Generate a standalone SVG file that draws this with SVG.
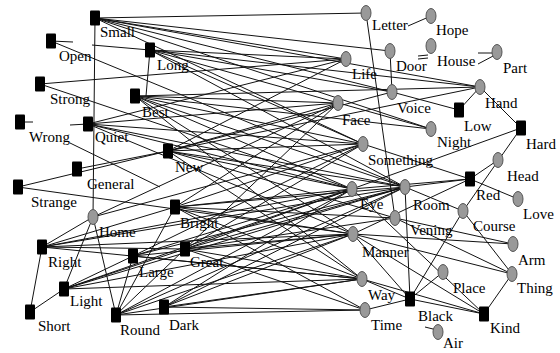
<svg xmlns="http://www.w3.org/2000/svg" width="560" height="353" viewBox="0 0 560 353">
<style>
.e line{stroke:#111;stroke-width:1}
.sq{fill:#000}
.ci{fill:#999;stroke:#555;stroke-width:1}
text{font-family:"Liberation Serif","Times New Roman",serif;font-size:15px;fill:#000}
</style>
<defs>
<rect id="s" x="-5" y="-7.5" width="10" height="15" rx="1"/>
<ellipse id="c" rx="5" ry="7.5"/>
</defs>
<rect width="560" height="353" fill="#fff"/>
<g id="connectors" class="e">
<line x1="95" y1="18" x2="366" y2="13"/>
<line x1="95" y1="18" x2="390" y2="51"/>
<line x1="95" y1="18" x2="346" y2="59"/>
<line x1="95" y1="18" x2="480" y2="87"/>
<line x1="95" y1="18" x2="392" y2="92"/>
<line x1="95" y1="18" x2="431" y2="129"/>
<line x1="95" y1="18" x2="363" y2="144"/>
<line x1="95" y1="18" x2="93" y2="217"/>
<line x1="51" y1="41" x2="73" y2="42"/>
<line x1="92" y1="45" x2="150" y2="50"/>
<line x1="51" y1="41" x2="405" y2="187"/>
<line x1="150" y1="50" x2="346" y2="59"/>
<line x1="150" y1="50" x2="480" y2="87"/>
<line x1="150" y1="50" x2="392" y2="92"/>
<line x1="150" y1="50" x2="431" y2="129"/>
<line x1="150" y1="50" x2="363" y2="144"/>
<line x1="150" y1="50" x2="405" y2="187"/>
<line x1="150" y1="50" x2="146" y2="96"/>
<line x1="40" y1="84" x2="346" y2="59"/>
<line x1="40" y1="84" x2="352" y2="189"/>
<line x1="135" y1="96" x2="338" y2="103"/>
<line x1="135" y1="96" x2="363" y2="144"/>
<line x1="135" y1="96" x2="431" y2="129"/>
<line x1="135" y1="96" x2="405" y2="187"/>
<line x1="135" y1="96" x2="352" y2="189"/>
<line x1="135" y1="96" x2="480" y2="87"/>
<line x1="135" y1="96" x2="362" y2="279"/>
<line x1="135" y1="96" x2="353" y2="234"/>
<line x1="20" y1="122" x2="33" y2="122"/>
<line x1="70" y1="125" x2="88" y2="124"/>
<line x1="88" y1="124" x2="338" y2="103"/>
<line x1="88" y1="124" x2="346" y2="59"/>
<line x1="88" y1="124" x2="363" y2="144"/>
<line x1="88" y1="124" x2="405" y2="187"/>
<line x1="88" y1="124" x2="352" y2="189"/>
<line x1="88" y1="124" x2="353" y2="234"/>
<line x1="168" y1="151" x2="77" y2="169"/>
<line x1="168" y1="151" x2="18" y2="187"/>
<line x1="168" y1="151" x2="338" y2="103"/>
<line x1="168" y1="151" x2="480" y2="87"/>
<line x1="168" y1="151" x2="392" y2="92"/>
<line x1="168" y1="151" x2="363" y2="144"/>
<line x1="168" y1="151" x2="405" y2="187"/>
<line x1="168" y1="151" x2="352" y2="189"/>
<line x1="168" y1="151" x2="395" y2="218"/>
<line x1="168" y1="151" x2="362" y2="279"/>
<line x1="168" y1="151" x2="346" y2="59"/>
<line x1="70" y1="143" x2="160" y2="187"/>
<line x1="18" y1="187" x2="353" y2="234"/>
<line x1="175" y1="207" x2="405" y2="187"/>
<line x1="175" y1="207" x2="352" y2="189"/>
<line x1="175" y1="207" x2="363" y2="144"/>
<line x1="175" y1="207" x2="353" y2="234"/>
<line x1="175" y1="207" x2="362" y2="279"/>
<line x1="175" y1="207" x2="395" y2="218"/>
<line x1="175" y1="207" x2="365" y2="310"/>
<line x1="175" y1="207" x2="338" y2="103"/>
<line x1="93" y1="217" x2="42" y2="247"/>
<line x1="93" y1="217" x2="64" y2="289"/>
<line x1="93" y1="217" x2="338" y2="103"/>
<line x1="93" y1="217" x2="363" y2="144"/>
<line x1="42" y1="247" x2="185" y2="249"/>
<line x1="42" y1="247" x2="30" y2="312"/>
<line x1="42" y1="247" x2="352" y2="189"/>
<line x1="42" y1="247" x2="405" y2="187"/>
<line x1="42" y1="247" x2="353" y2="234"/>
<line x1="42" y1="247" x2="362" y2="279"/>
<line x1="42" y1="247" x2="175" y2="207"/>
<line x1="133" y1="256" x2="116" y2="315"/>
<line x1="133" y1="256" x2="352" y2="189"/>
<line x1="133" y1="256" x2="405" y2="187"/>
<line x1="133" y1="256" x2="353" y2="234"/>
<line x1="133" y1="256" x2="362" y2="279"/>
<line x1="133" y1="256" x2="64" y2="289"/>
<line x1="133" y1="256" x2="363" y2="144"/>
<line x1="185" y1="249" x2="352" y2="189"/>
<line x1="185" y1="249" x2="405" y2="187"/>
<line x1="185" y1="249" x2="363" y2="144"/>
<line x1="185" y1="249" x2="353" y2="234"/>
<line x1="185" y1="249" x2="362" y2="279"/>
<line x1="185" y1="249" x2="395" y2="218"/>
<line x1="185" y1="249" x2="365" y2="310"/>
<line x1="185" y1="249" x2="338" y2="103"/>
<line x1="64" y1="289" x2="30" y2="312"/>
<line x1="64" y1="289" x2="185" y2="249"/>
<line x1="64" y1="289" x2="405" y2="187"/>
<line x1="64" y1="289" x2="362" y2="279"/>
<line x1="64" y1="289" x2="353" y2="234"/>
<line x1="64" y1="289" x2="352" y2="189"/>
<line x1="116" y1="315" x2="362" y2="279"/>
<line x1="116" y1="315" x2="365" y2="310"/>
<line x1="116" y1="315" x2="353" y2="234"/>
<line x1="116" y1="315" x2="352" y2="189"/>
<line x1="116" y1="315" x2="405" y2="187"/>
<line x1="116" y1="315" x2="175" y2="207"/>
<line x1="116" y1="315" x2="93" y2="217"/>
<line x1="116" y1="315" x2="185" y2="249"/>
<line x1="164" y1="307" x2="365" y2="310"/>
<line x1="164" y1="307" x2="362" y2="279"/>
<line x1="164" y1="307" x2="353" y2="234"/>
<line x1="164" y1="307" x2="405" y2="187"/>
<line x1="164" y1="307" x2="352" y2="189"/>
<line x1="459" y1="110" x2="480" y2="87"/>
<line x1="459" y1="110" x2="392" y2="92"/>
<line x1="521" y1="128" x2="480" y2="87"/>
<line x1="521" y1="128" x2="352" y2="189"/>
<line x1="521" y1="128" x2="463" y2="211"/>
<line x1="470" y1="179" x2="498" y2="160"/>
<line x1="470" y1="179" x2="518" y2="199"/>
<line x1="470" y1="179" x2="405" y2="187"/>
<line x1="470" y1="179" x2="363" y2="144"/>
<line x1="470" y1="179" x2="352" y2="189"/>
<line x1="470" y1="179" x2="353" y2="234"/>
<line x1="410" y1="299" x2="362" y2="279"/>
<line x1="410" y1="299" x2="353" y2="234"/>
<line x1="410" y1="299" x2="463" y2="211"/>
<line x1="410" y1="299" x2="443" y2="272"/>
<line x1="410" y1="299" x2="365" y2="310"/>
<line x1="410" y1="299" x2="405" y2="187"/>
<line x1="425" y1="327" x2="437" y2="330"/>
<line x1="484" y1="314" x2="512" y2="274"/>
<line x1="484" y1="314" x2="410" y2="299"/>
<line x1="484" y1="314" x2="362" y2="279"/>
<line x1="484" y1="314" x2="353" y2="234"/>
<line x1="484" y1="314" x2="352" y2="189"/>
<line x1="512" y1="274" x2="353" y2="234"/>
<line x1="512" y1="274" x2="395" y2="218"/>
<line x1="512" y1="274" x2="463" y2="211"/>
<line x1="513" y1="244" x2="395" y2="218"/>
<line x1="513" y1="244" x2="353" y2="234"/>
<line x1="463" y1="211" x2="405" y2="187"/>
<line x1="366" y1="13" x2="395" y2="218"/>
<line x1="408" y1="26" x2="431" y2="16"/>
<line x1="418" y1="56" x2="428" y2="55"/>
<line x1="418" y1="59" x2="428" y2="58"/>
<line x1="478" y1="53" x2="495" y2="53"/>
<line x1="478" y1="64" x2="495" y2="55"/>
<line x1="390" y1="51" x2="392" y2="92"/>
</g>
<g id="n-small"><use href="#s" x="95" y="18" class="sq"/><text x="100" y="37">Small</text></g>
<g id="n-open"><use href="#s" x="51" y="41" class="sq"/><text x="59" y="61">Open</text></g>
<g id="n-long"><use href="#s" x="150" y="50" class="sq"/><text x="157" y="70">Long</text></g>
<g id="n-strong"><use href="#s" x="40" y="84" class="sq"/><text x="50" y="104">Strong</text></g>
<g id="n-best"><use href="#s" x="135" y="96" class="sq"/><text x="142" y="117">Best</text></g>
<g id="n-wrong"><use href="#s" x="20" y="122" class="sq"/><text x="29" y="142">Wrong</text></g>
<g id="n-quiet"><use href="#s" x="88" y="124" class="sq"/><text x="95" y="142">Quiet</text></g>
<g id="n-new"><use href="#s" x="168" y="151" class="sq"/><text x="175" y="172">New</text></g>
<g id="n-general"><use href="#s" x="77" y="169" class="sq"/><text x="87" y="189">General</text></g>
<g id="n-strange"><use href="#s" x="18" y="187" class="sq"/><text x="31" y="207">Strange</text></g>
<g id="n-bright"><use href="#s" x="175" y="207" class="sq"/><text x="180" y="228">Bright</text></g>
<g id="n-right"><use href="#s" x="42" y="247" class="sq"/><text x="48" y="267">Right</text></g>
<g id="n-large"><use href="#s" x="133" y="256" class="sq"/><text x="139" y="277">Large</text></g>
<g id="n-great"><use href="#s" x="185" y="249" class="sq"/><text x="190" y="267">Great</text></g>
<g id="n-light"><use href="#s" x="64" y="289" class="sq"/><text x="70" y="306">Light</text></g>
<g id="n-short"><use href="#s" x="30" y="312" class="sq"/><text x="38" y="331">Short</text></g>
<g id="n-round"><use href="#s" x="116" y="315" class="sq"/><text x="120" y="335">Round</text></g>
<g id="n-dark"><use href="#s" x="164" y="307" class="sq"/><text x="169" y="330">Dark</text></g>
<g id="n-low"><use href="#s" x="459" y="110" class="sq"/><text x="464" y="131">Low</text></g>
<g id="n-hard"><use href="#s" x="521" y="128" class="sq"/><text x="526" y="149">Hard</text></g>
<g id="n-red"><use href="#s" x="470" y="179" class="sq"/><text x="476" y="200">Red</text></g>
<g id="n-black"><use href="#s" x="410" y="299" class="sq"/><text x="418" y="321">Black</text></g>
<g id="n-kind"><use href="#s" x="484" y="314" class="sq"/><text x="490" y="333">Kind</text></g>
<g id="n-letter"><use href="#c" x="366" y="13" class="ci"/><text x="372" y="30">Letter</text></g>
<g id="n-hope"><use href="#c" x="431" y="16" class="ci"/><text x="436" y="35">Hope</text></g>
<g id="n-door"><use href="#c" x="390" y="51" class="ci"/><text x="396" y="71">Door</text></g>
<g id="n-house"><use href="#c" x="431" y="46" class="ci"/><text x="437" y="66">House</text></g>
<g id="n-part"><use href="#c" x="497" y="52" class="ci"/><text x="503" y="73">Part</text></g>
<g id="n-life"><use href="#c" x="346" y="59" class="ci"/><text x="352" y="79">Life</text></g>
<g id="n-hand"><use href="#c" x="480" y="87" class="ci"/><text x="485" y="108">Hand</text></g>
<g id="n-voice"><use href="#c" x="392" y="92" class="ci"/><text x="397" y="113">Voice</text></g>
<g id="n-face"><use href="#c" x="338" y="103" class="ci"/><text x="342" y="125">Face</text></g>
<g id="n-night"><use href="#c" x="431" y="129" class="ci"/><text x="437" y="147">Night</text></g>
<g id="n-something"><use href="#c" x="363" y="144" class="ci"/><text x="368" y="165">Something</text></g>
<g id="n-head"><use href="#c" x="498" y="160" class="ci"/><text x="507" y="181">Head</text></g>
<g id="n-room"><use href="#c" x="405" y="187" class="ci"/><text x="413" y="210">Room</text></g>
<g id="n-eye"><use href="#c" x="352" y="189" class="ci"/><text x="360" y="209">Eye</text></g>
<g id="n-love"><use href="#c" x="518" y="199" class="ci"/><text x="523" y="219">Love</text></g>
<g id="n-course"><use href="#c" x="463" y="211" class="ci"/><text x="473" y="231">Course</text></g>
<g id="n-home"><use href="#c" x="93" y="217" class="ci"/><text x="99" y="237">Home</text></g>
<g id="n-vening"><use href="#c" x="395" y="218" class="ci"/><text x="410" y="235">Vening</text></g>
<g id="n-manner"><use href="#c" x="353" y="234" class="ci"/><text x="362" y="257">Manner</text></g>
<g id="n-arm"><use href="#c" x="513" y="244" class="ci"/><text x="518" y="265">Arm</text></g>
<g id="n-place"><use href="#c" x="443" y="272" class="ci"/><text x="453" y="293">Place</text></g>
<g id="n-thing"><use href="#c" x="512" y="274" class="ci"/><text x="517" y="293">Thing</text></g>
<g id="n-way"><use href="#c" x="362" y="279" class="ci"/><text x="368" y="300">Way</text></g>
<g id="n-time"><use href="#c" x="365" y="310" class="ci"/><text x="371" y="330">Time</text></g>
<g id="n-air"><use href="#c" x="438" y="332" class="ci"/><text x="443" y="348">Air</text></g>
</svg>
